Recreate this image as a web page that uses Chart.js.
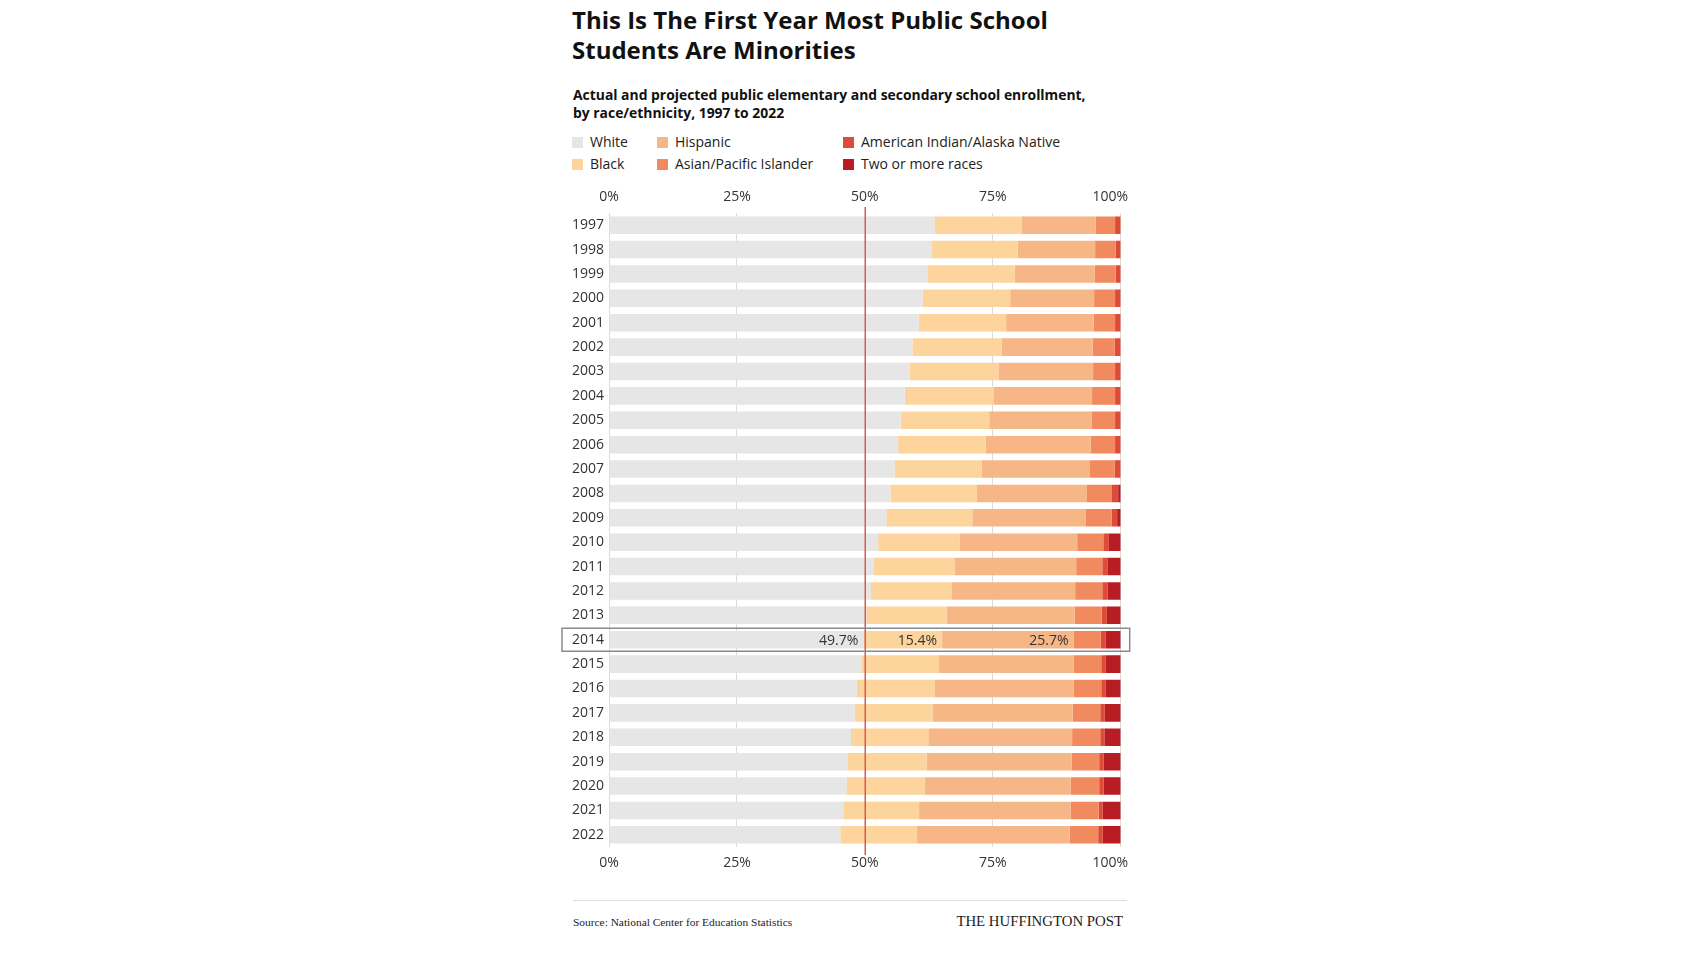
<!DOCTYPE html>
<html>
<head>
<meta charset="utf-8">
<script src="https://cdn.jsdelivr.net/npm/chart.js@4"></script>
<style>
  body { margin: 0; background: #fff; width: 1696px; height: 954px; position: relative; font-family: 'Open Sans', sans-serif; color: #111; }
  #title { position: absolute; left: 572px; top: 5px; font-size: 24px; font-weight: 700; line-height: 30px; }
  #subtitle { position: absolute; left: 573px; top: 86px; font-size: 13.9px; font-weight: 700; line-height: 18px; }
  #legend { position: absolute; left: 572px; top: 142px; font-size: 14px; color: #222; }
  .lg { position: absolute; white-space: nowrap; line-height: 20px; }
  .lg i { display: inline-block; width: 11px; height: 11px; margin-right: 7px; vertical-align: -1px; }
  #chart { position: absolute; left: 557px; top: 180px; }
  #rule { position: absolute; left: 573px; top: 900px; width: 554px; border-top: 1px solid #ddd; }
  #source { position: absolute; left: 573px; top: 916px; font-family: 'Liberation Serif', serif; font-size: 11.4px; color: #222; }
  #brand { position: absolute; right: 573px; top: 913px; font-family: 'Liberation Serif', serif; font-size: 14.8px; color: #222; }
</style>
</head>
<body>
<div id="title">This Is The First Year Most Public School<br>Students Are Minorities</div>
<div id="subtitle">Actual and projected public elementary and secondary school enrollment,<br>by race/ethnicity, 1997 to 2022</div>
<div id="legend"></div>
<canvas id="chart" width="600" height="697"></canvas>
<div id="rule"></div>
<div id="source">Source: National Center for Education Statistics</div>
<div id="brand">THE HUFFINGTON POST</div>

<script>
const years = ['1997','1998','1999','2000','2001','2002','2003','2004','2005','2006','2007','2008','2009',
  '2010','2011','2012','2013','2014','2015','2016','2017','2018','2019','2020','2021','2022'];

const white    = [63.6,63.0,62.2,61.3,60.5,59.3,58.8,57.8,57.0,56.5,55.8,55.0,54.2,52.6,51.8,51.2,50.3,49.7,49.3,48.4,48.0,47.3,46.7,46.4,45.8,45.2];
const black    = [17.0,16.9,17.1,17.1,17.1,17.4,17.3,17.3,17.3,17.1,17.0,16.8,16.8,15.9,15.8,15.7,15.7,15.4,15.2,15.3,15.2,15.1,15.4,15.3,14.8,15.0];
const hispanic = [14.5,15.1,15.6,16.4,17.1,17.8,18.5,19.3,20.0,20.5,21.2,21.6,22.1,23.0,23.7,24.2,25.0,25.7,26.3,27.1,27.4,28.1,28.3,28.5,29.6,29.8];
const asian    = [3.8,4.0,4.1,4.1,4.2,4.3,4.3,4.5,4.6,4.8,4.8,4.9,5.1,5.1,5.1,5.3,5.3,5.3,5.4,5.4,5.4,5.5,5.4,5.6,5.5,5.6];
const aian     = [1.1,1.0,1.0,1.1,1.1,1.2,1.1,1.1,1.1,1.1,1.2,1.2,1.1,1.1,1.1,1.0,1.0,1.0,0.9,0.8,0.9,0.8,0.9,0.9,0.8,0.9];
const twoMore  = [0,0,0,0,0,0,0,0,0,0,0,0.5,0.7,2.3,2.5,2.6,2.7,2.9,2.9,3.0,3.1,3.2,3.3,3.3,3.5,3.5];

const xTicks = [0, 25, 50, 75, 100];
const majorityLine = 50;
const highlightYear = '2014';

const seriesNames = ['White', 'Black', 'Hispanic', 'Asian/Pacific Islander', 'American Indian/Alaska Native', 'Two or more races'];
const seriesColors = ['#e6e6e6', '#fcd49c', '#f7b686', '#f28a60', '#dd4b39', '#b81d24'];
const seriesData = [white, black, hispanic, asian, aian, twoMore];

// legend, 3 columns x 2 rows like the original
const legendOrder = [[0, 0, 0], [1, 0, 21.5], [2, 85, 0], [3, 85, 21.5], [4, 271, 0], [5, 271, 21.5]];
const legendEl = document.getElementById('legend');
legendOrder.forEach(([i, x, y]) => {
  const d = document.createElement('div');
  d.className = 'lg';
  d.style.left = x + 'px';
  d.style.top = (y - 10) + 'px';
  d.innerHTML = '<i style="background:' + seriesColors[i] + '"></i>' + seriesNames[i];
  legendEl.appendChild(d);
});

// 50% line, box + value labels round the highlighted year
const highlightPlugin = {
  id: 'highlight',
  afterDraw(chart) {
    const { ctx, scales, chartArea } = chart;
    const x = scales.x;
    ctx.save();
    const mx = Math.round(x.getPixelForValue(majorityLine)) + 0.25;
    ctx.strokeStyle = '#dc5a4a';
    ctx.lineWidth = 1.5;
    ctx.beginPath();
    ctx.moveTo(mx, chartArea.top - 6);
    ctx.lineTo(mx, chartArea.bottom + 8);
    ctx.stroke();

    const idx = years.indexOf(highlightYear);
    const y = scales.y.getPixelForValue(idx);
    ctx.strokeStyle = '#8a8a8a';
    ctx.strokeRect(x.left - 47, y - 11.5, x.right - x.left + 56, 23);
    ctx.fillStyle = '#333';
    ctx.font = '14px "Open Sans"';
    ctx.textAlign = 'right';
    ctx.textBaseline = 'middle';
    let acc = 0;
    [white, black, hispanic].forEach(arr => {
      acc += arr[idx];
      ctx.fillText(arr[idx].toFixed(1) + '%', x.getPixelForValue(acc) - 5, y + 1);
    });
    ctx.restore();
  }
};

const tickFont = { family: 'Open Sans', size: 14 };
// last label sits pulled in from the edge in the original
const pctLabel = v => v === 100 ? '100%\u2003\u2002' : v + '%';

new Chart(document.getElementById('chart'), {
  type: 'bar',
  data: {
    labels: years,
    datasets: seriesData.map((d, i) => ({
      label: seriesNames[i],
      data: d,
      backgroundColor: seriesColors[i],
      borderWidth: 0,
      categoryPercentage: 1,
      barPercentage: 0.72,
      xAxisID: 'x'
    }))
  },
  options: {
    indexAxis: 'y',
    responsive: false,
    animation: false,
    layout: { padding: { right: 36, top: 0, bottom: 0, left: 0 } },
    plugins: { legend: { display: false }, tooltip: { enabled: false } },
    scales: {
      x: {
        stacked: true,
        min: 0, max: 100,
        position: 'bottom',
        z: 1,
        afterFit: s => { s.height = 30; },
        afterBuildTicks: s => { s.ticks = xTicks.map(v => ({ value: v })); },
        border: { display: false },
        grid: {
          drawTicks: false,
          color: c => c.tick.value === majorityLine ? 'rgba(0,0,0,0)' : 'rgba(175,175,175,0.45)',
          lineWidth: 1
        },
        ticks: { padding: 8, color: '#333', font: tickFont, callback: pctLabel }
      },
      x2: {
        min: 0, max: 100,
        position: 'top',
        afterFit: s => { s.height = 33; },
        afterBuildTicks: s => { s.ticks = xTicks.map(v => ({ value: v })); },
        border: { display: false },
        grid: { display: false, drawTicks: false },
        ticks: { padding: 8, color: '#333', font: tickFont, callback: pctLabel }
      },
      y: {
        stacked: true,
        afterFit: s => { s.width = 52; },
        border: { display: false },
        grid: { display: false, drawTicks: false },
        ticks: { padding: 5, color: '#333', font: tickFont }
      }
    }
  },
  plugins: [highlightPlugin]
});
</script>
</body>
</html>
